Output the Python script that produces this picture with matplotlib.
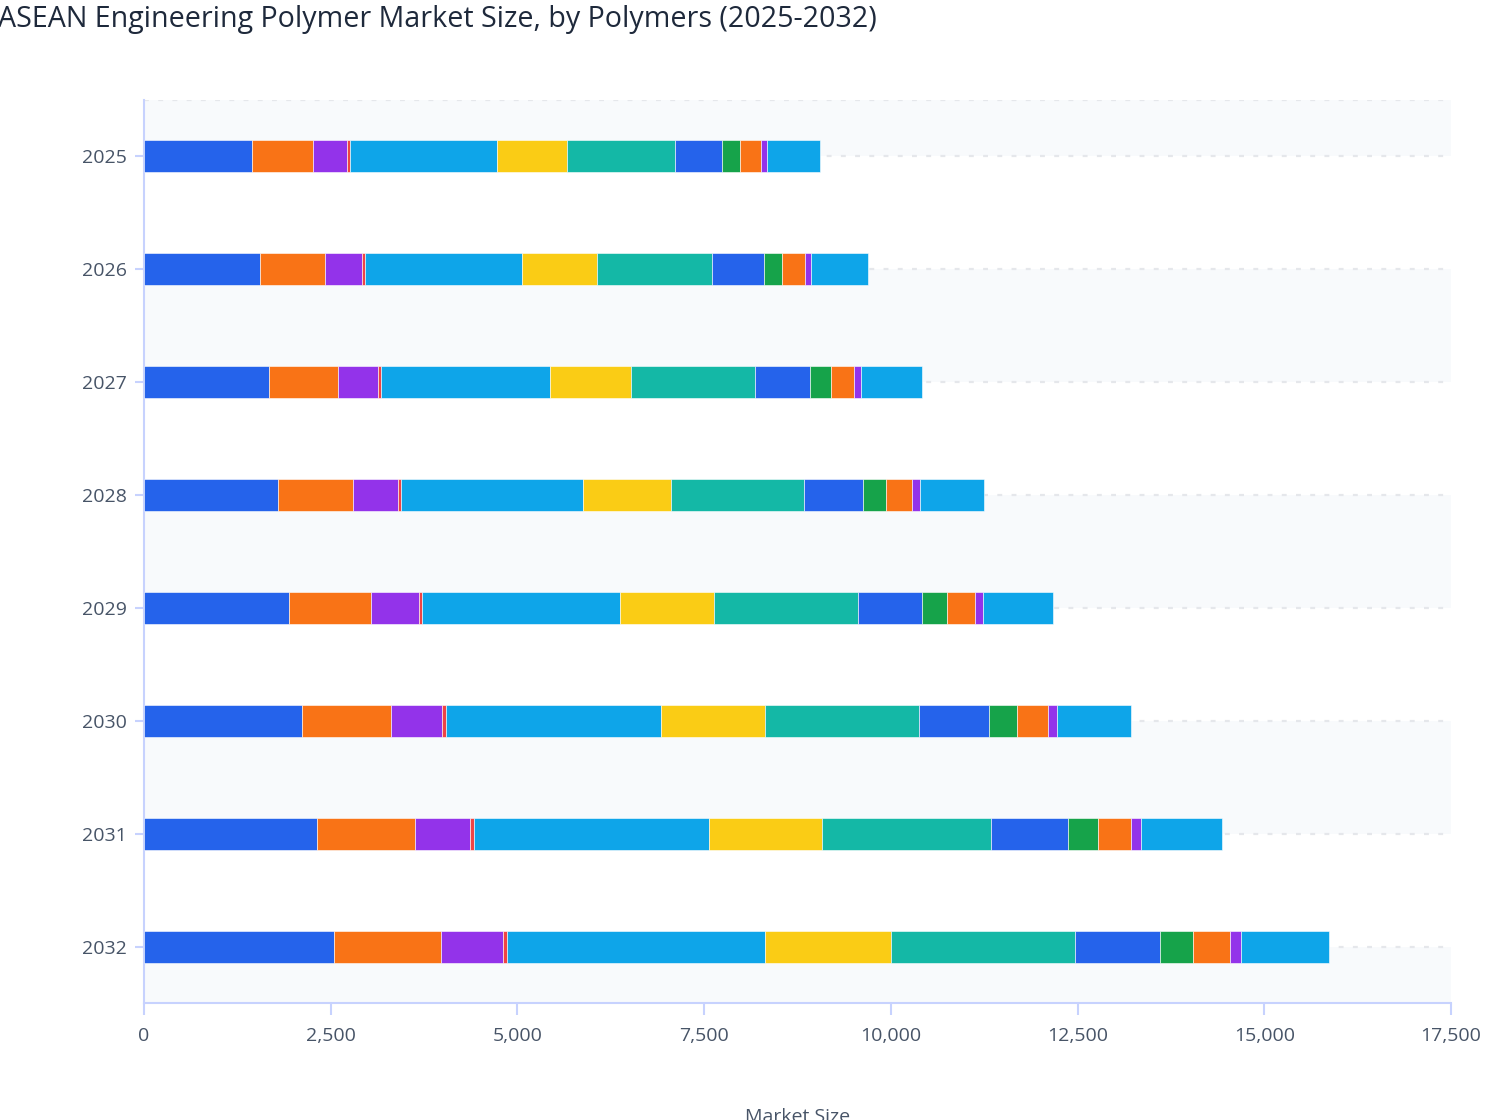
import matplotlib
matplotlib.use("Agg")
import matplotlib.pyplot as plt
import numpy as np

plt.rcParams['font.family'] = ['Open Sans', 'DejaVu Sans']

years = ["2025", "2026", "2027", "2028", "2029", "2030", "2031", "2032"]

series_names = [
    "Polyamide (PA)", "Polycarbonate (PC)", "Polyoxymethylene (POM)", "Fluoropolymers",
    "ABS", "PBT", "PET", "PMMA", "PPS", "PEEK", "LCP", "Others",
]

s01 = [1446, 1552, 1675, 1797, 1940, 2114, 2319, 2547]
s02 = [819, 874, 929, 1008, 1106, 1194, 1307, 1428]
s03 = [455, 498, 526, 590, 631, 686, 743, 832]
s04 = [34, 36, 38, 40, 42, 45, 48, 52]
s05 = [1972, 2103, 2274, 2449, 2648, 2890, 3146, 3462]
s06 = [933, 1005, 1080, 1178, 1271, 1380, 1521, 1679]
s07 = [1446, 1543, 1660, 1780, 1924, 2072, 2263, 2468]
s08 = [633, 684, 731, 784, 851, 937, 1021, 1134]
s09 = [240, 252, 280, 308, 335, 365, 402, 442]
s10 = [281, 301, 314, 348, 380, 421, 451, 499]
s11 = [78, 82, 98, 104, 108, 115, 125, 139]
s12 = [711, 766, 806, 860, 933, 1000, 1088, 1183]

series_values = [s01, s02, s03, s04, s05, s06, s07, s08, s09, s10, s11, s12]

colors = ["#2563eb", "#f97316", "#9333ea", "#ef4444", "#0ea5e9", "#facc15",
          "#14b8a6", "#2563eb", "#16a34a", "#f97316", "#9333ea", "#0ea5e9"]

xticks = [0, 2500, 5000, 7500, 10000, 12500, 15000, 17500]

W, H = 1508, 1120
fig = plt.figure(figsize=(W / 100, H / 100), dpi=100)
ax = fig.add_axes([144 / W, 1 - 1003 / H, (1451 - 144) / W, (1003 - 100) / H])

ypos = np.arange(len(years))
n = len(years)

# alternating bands
ax.axhspan(-0.5, 0, color="#f8fafc", zorder=0, lw=0)
for k in range(1, n, 2):
    ax.axhspan(k, min(k + 1, n - 0.5), color="#f8fafc", zorder=0, lw=0)
ax.axhspan(n - 1, n - 0.5, color="#f8fafc", zorder=0, lw=0)

# dashed gridlines
for yv in [-0.5] + list(ypos):
    ax.axhline(yv, color="#e5e7eb", lw=1.6, dashes=(2.2, 4.2), zorder=1)

left = np.zeros(n)
for name, vals, c in zip(series_names, series_values, colors):
    v = np.array(vals, dtype=float)
    ax.barh(ypos, v, left=left, height=0.283, color=c, label=name,
            edgecolor="white", linewidth=0.4, zorder=3)
    left += v

ax.set_ylim(n - 0.5, -0.5)
ax.set_xlim(0, 17500)
ax.set_yticks(ypos)
ax.set_yticklabels(years)
ax.set_xticks(xticks)
ax.set_xticklabels([f"{t:,}" for t in xticks])

for side in ["top", "right"]:
    ax.spines[side].set_visible(False)
for side in ["left", "bottom"]:
    ax.spines[side].set_color("#c7d2fe")
    ax.spines[side].set_linewidth(1.5)

ax.tick_params(axis="x", length=8.5, width=1.5, color="#c7d2fe", pad=9,
               labelsize=14, labelcolor="#475467")
ax.tick_params(axis="y", length=6.5, width=1.5, color="#c7d2fe", pad=6,
               labelsize=14, labelcolor="#475467")
ax.set_facecolor("white")

fig.text(-2 / W, 1 - 5 / H, "ASEAN Engineering Polymer Market Size, by Polymers (2025-2032)",
         ha="left", va="top", fontsize=20.6, color="#1e293b", fontweight="medium")
fig.text((144 + 1451) / 2 / W, 1 - 1108 / H, "Market Size", ha="center", va="top",
         fontsize=14, color="#475467")

fig.savefig("out.png", dpi=100)
